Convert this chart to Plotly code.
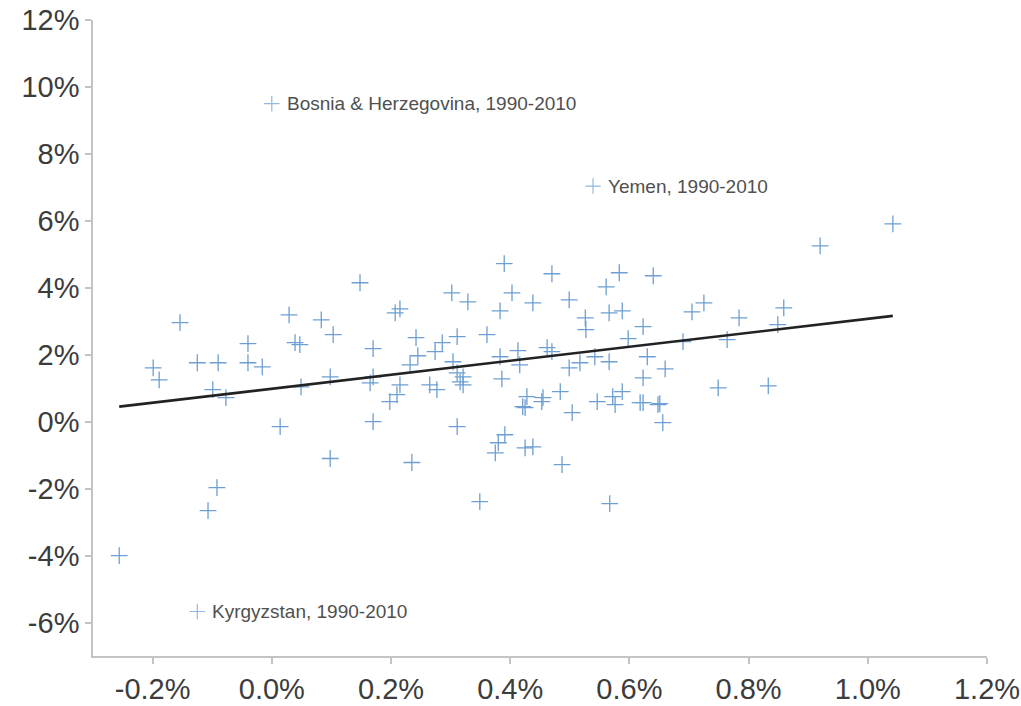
import plotly.graph_objects as go

# Average annual growth (%), one point per country, 1990-2010
pop_growth = [
    -0.256, -0.199, -0.189, -0.154, -0.125, -0.107, -0.092, -0.090, -0.099, -0.077,
    -0.040, -0.040, -0.016, 0.014, 0.029, 0.039, 0.047, 0.049, 0.083, 0.103,
    0.098, 0.098, 0.148, 0.170, 0.170, 0.165, 0.170, 0.198, 0.207, 0.215,
    0.215, 0.210, 0.232, 0.242, 0.245, 0.235, 0.265, 0.274, 0.277, 0.286,
    0.302, 0.304, 0.311, 0.321, 0.316, 0.321, 0.311, 0.311, 0.329, 0.349,
    0.361, 0.383, 0.383, 0.386, 0.390, 0.403, 0.391, 0.380, 0.375, 0.413,
    0.416, 0.421, 0.425, 0.425, 0.438, 0.428, 0.438, 0.453, 0.455, 0.462,
    0.470, 0.470, 0.484, 0.487, 0.499, 0.499, 0.504, 0.517, 0.526, 0.527,
    0.542, 0.546, 0.561, 0.566, 0.566, 0.567, 0.572, 0.576, 0.583, 0.588,
    0.588, 0.598, 0.618, 0.623, 0.623, 0.623, 0.630, 0.640, 0.648, 0.651,
    0.656, 0.660, 0.690, 0.705, 0.725, 0.749, 0.764, 0.784, 0.833, 0.849,
    0.859, 0.920, 1.042,
]
gdp_growth = [
    -4.00, 1.61, 1.25, 2.96, 1.76, -2.66, -1.97, 1.76, 0.96, 0.72,
    2.33, 1.76, 1.64, -0.15, 3.19, 2.36, 2.30, 1.04, 3.04, 2.60,
    1.34, -1.10, 4.15, 2.18, 1.34, 1.16, 0.00, 0.60, 3.25, 3.37,
    1.10, 0.81, 1.70, 2.51, 1.97, -1.22, 1.10, 2.09, 0.96, 2.36,
    3.85, 1.79, 1.46, 1.34, 1.19, 1.10, 2.54, -0.15, 3.58, -2.39,
    2.60, 3.31, 1.94, 1.28, 4.72, 3.85, -0.39, -0.63, -0.93, 2.12,
    1.70, 0.45, -0.78, 0.42, -0.75, 0.75, 3.55, 0.60, 0.72, 2.21,
    4.42, 2.09, 0.90, -1.28, 3.64, 1.61, 0.27, 1.76, 3.10, 2.75,
    1.94, 0.60, 4.03, 3.25, 1.79, -2.45, 0.75, 0.51, 4.45, 3.31,
    0.90, 2.48, 0.57, 2.84, 1.31, 0.57, 1.94, 4.36, 0.51, 0.54,
    -0.03, 1.58, 2.39, 3.28, 3.55, 1.01, 2.45, 3.10, 1.07, 2.90,
    3.40, 5.25, 5.91,
]

# Outliers shown with a name label
named_countries = ["Bosnia & Herzegovina, 1990-2010", "Yemen, 1990-2010", "Kyrgyzstan, 1990-2010"]
named_x = [0.000, 0.539, -0.125]
named_y = [9.50, 7.04, -5.67]

# Linear trend through the scatter
trend_x = [-0.256, 1.042]
trend_y = [0.45, 3.16]

x_ticks = [-0.2, 0.0, 0.2, 0.4, 0.6, 0.8, 1.0, 1.2]
x_tick_labels = ["-0.2%", "0.0%", "0.2%", "0.4%", "0.6%", "0.8%", "1.0%", "1.2%"]
y_ticks = [-6, -4, -2, 0, 2, 4, 6, 8, 10, 12]
y_tick_labels = ["-6%", "-4%", "-2%", "0%", "2%", "4%", "6%", "8%", "10%", "12%"]

cross_color = "#6d9fd2"
axis_color = "#c4c4c4"
text_color = "#3c3c3c"
font_family = "Liberation Sans, Arial, sans-serif"

fig = go.Figure()

fig.add_trace(go.Scatter(
    x=pop_growth, y=gdp_growth, mode="markers",
    marker=dict(symbol="cross-thin", size=12, line=dict(width=1.3, color=cross_color)),
    hoverinfo="x+y", showlegend=False,
))

fig.add_trace(go.Scatter(
    x=named_x, y=named_y, mode="markers",
    marker=dict(symbol="cross-thin", size=11, line=dict(width=1.2, color="#8fb9e2")),
    showlegend=False,
))

for name, nx, ny in zip(named_countries, named_x, named_y):
    fig.add_annotation(
        x=nx, y=ny, text=name, showarrow=False,
        xanchor="left", yanchor="middle", xshift=13,
        font=dict(family=font_family, size=19, color="#505050"),
    )

fig.add_trace(go.Scatter(
    x=trend_x, y=trend_y, mode="lines",
    line=dict(color="#222222", width=2.6),
    showlegend=False, hoverinfo="skip",
))

fig.update_layout(
    width=1021, height=706,
    margin=dict(l=93, r=34, t=20, b=50),
    paper_bgcolor="white", plot_bgcolor="white",
    font=dict(family=font_family, size=29, color=text_color),
)

fig.update_xaxes(
    range=[-0.3, 1.2], tickvals=x_ticks, ticktext=x_tick_labels,
    showgrid=False, zeroline=False, automargin=False,
    showline=True, linecolor=axis_color, linewidth=1.5,
    ticks="outside", tickcolor=axis_color, ticklen=6, tickwidth=1.5,
)
fig.update_yaxes(
    range=[-7, 12], tickvals=y_ticks, ticktext=y_tick_labels,
    showgrid=False, zeroline=False, automargin=False,
    showline=True, linecolor=axis_color, linewidth=1.5,
    ticks="outside", tickcolor=axis_color, ticklen=6, tickwidth=1.5,
)

fig.write_html("out.html")
